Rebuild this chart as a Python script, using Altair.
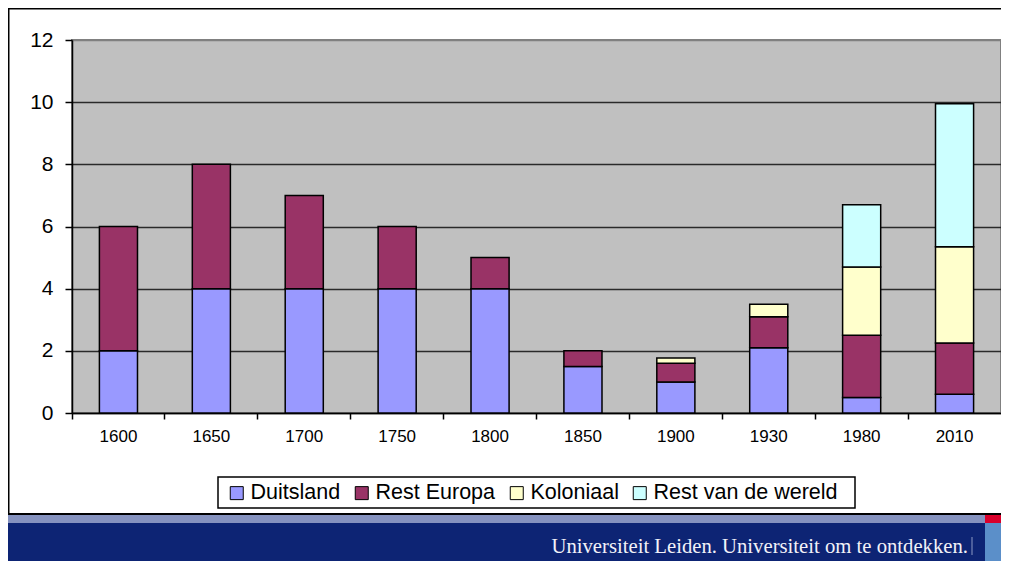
import altair as alt
import pandas as pd

years = ["1600", "1650", "1700", "1750", "1800", "1850", "1900", "1930", "1980", "2010"]
series = ["Duitsland", "Rest Europa", "Koloniaal", "Rest van de wereld"]
duitsland = [2, 4, 4, 4, 4, 1.5, 1.0, 2.1, 0.5, 0.6]
rest_europa = [4, 4, 3, 2, 1, 0.5, 0.6, 1.0, 2.0, 1.65]
koloniaal = [0, 0, 0, 0, 0, 0, 0.17, 0.4, 2.2, 3.1]
rest_wereld = [0, 0, 0, 0, 0, 0, 0, 0, 2.0, 4.6]
colors = ["#9999FF", "#993366", "#FFFFCC", "#CCFFFF"]
y_ticks = [0, 2, 4, 6, 8, 10, 12]
footer_text = "Universiteit Leiden. Universiteit om te ontdekken."

rows = []
for i, y in enumerate(years):
    for k, (name, vals) in enumerate(zip(series, [duitsland, rest_europa, koloniaal, rest_wereld])):
        if vals[i] > 0:
            rows.append({"year": y, "series": name, "idx": k, "value": vals[i]})
df = pd.DataFrame(rows)

TOTAL_W, TOTAL_H = 993, 553
PL, PT, PR = 64, 32, 0
W, H = TOTAL_W - PL - PR, 373
PB = TOTAL_H - PT - H

bars = alt.Chart(df).mark_bar(
    width=alt.RelativeBandSize(0.41), stroke="black", strokeWidth=1.5
).encode(
    x=alt.X("year:N", sort=years, title=None,
            scale=alt.Scale(paddingInner=0, paddingOuter=0),
            axis=alt.Axis(labelAngle=0, bandPosition=0, tickSize=6, tickColor="black",
                          tickWidth=1.5, domainColor="black", domainWidth=1.5,
                          labelFontSize=17, labelPadding=9, labelColor="black",
                          labelFont="Liberation Sans", grid=False)),
    y=alt.Y("value:Q", stack="zero", title=None,
            scale=alt.Scale(domain=[0, 12], nice=False),
            axis=alt.Axis(values=y_ticks, tickSize=7, tickColor="black", tickWidth=1.5,
                          domainColor="black", domainWidth=1.5, labelFontSize=21,
                          labelPadding=12, labelColor="black", labelFont="Liberation Sans",
                          grid=True,
                          gridColor={"condition": {"test": "datum.value === 12", "value": "#808080"},
                                     "value": "#2a2a2a"},
                          gridWidth=1.6)),
    color=alt.Color("series:N", scale=alt.Scale(domain=series, range=colors),
                    legend=alt.Legend(title=None, orient="none", legendX=154, legendY=442,
                                      direction="horizontal", padding=0,
                                      labelFontSize=21.5,
                                      labelFont="Liberation Sans", labelColor="black",
                                      labelLimit=500,
                                      symbolType="square", symbolSize=169,
                                      symbolStrokeColor="black", symbolStrokeWidth=1,
                                      columnPadding=10, labelOffset=3)),
    order=alt.Order("idx:Q", sort="ascending"),
)

one = alt.Data(values=[{"a": 1}])

def rect(x0, x1, y0, y1, color, stroke=None, sw=0):
    kw = {"stroke": stroke} if stroke else {}
    return alt.Chart(one).mark_rect(fill=color, strokeWidth=sw, **kw).encode(
        x=alt.value(x0), x2=alt.value(x1), y=alt.value(y0), y2=alt.value(y1))

def rule(x0, x1, y0, y1, color, w):
    return alt.Chart(one).mark_rule(color=color, strokeWidth=w).encode(
        x=alt.value(x0), x2=alt.value(x1), y=alt.value(y0), y2=alt.value(y1))

L, R = -PL, TOTAL_W - PL
BOT = H + PB
slate = rect(L, R, 475, 483, "#8592BF")
navy = rect(L, R, 483, BOT, "#0D2474")
red = rect(913, R, 475, 483, "#D9002B")
lblue = rect(913, R, 483, BOT, "#5B8FC9")
legend_box = rect(146, 783, 437, 468, "white", "black", 1.5)
border_bottom = rule(L, R, 474, 474, "black", 2)
border_left = rule(L + 0.5, L + 0.5, -PT, 474, "black", 2)
border_top = rule(L, R, -PT + 0.5, -PT + 0.5, "black", 2)
sep = rule(900, 900, 497, 515, "#8C98C4", 1)
footer = alt.Chart(one).mark_text(
    align="right", baseline="alphabetic", font="Liberation Serif", fontSize=20.7,
    color="#F2F2F8"
).encode(x=alt.value(896), y=alt.value(513), text=alt.value(footer_text))

chart = alt.layer(
    slate, navy, red, lblue, legend_box, border_bottom, border_left, border_top,
    sep, footer, bars
).properties(
    width=W, height=H,
    padding={"left": PL, "top": PT, "right": PR, "bottom": PB},
    autosize=alt.AutoSizeParams(type="none"),
    background="white",
).configure_view(
    fill="#C0C0C0", stroke="#808080", strokeWidth=2
)

chart.save("out.html", embed_options={"renderer": "svg", "actions": False})
